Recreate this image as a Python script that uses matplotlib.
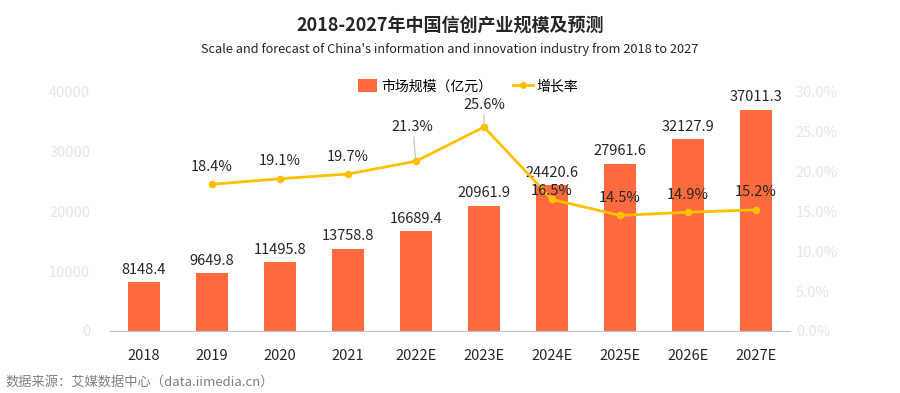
import matplotlib
matplotlib.use("Agg")
import matplotlib.pyplot as plt
from matplotlib.lines import Line2D
from matplotlib.patches import Patch

plt.rcParams["font.family"] = ["Noto Sans CJK SC", "DejaVu Sans"]

years = ["2018", "2019", "2020", "2021", "2022E", "2023E", "2024E", "2025E", "2026E", "2027E"]
scale = [8148.4, 9649.8, 11495.8, 13758.8, 16689.4, 20961.9, 24420.6, 27961.6, 32127.9, 37011.3]
growth = [None, 18.4, 19.1, 19.7, 21.3, 25.6, 16.5, 14.5, 14.9, 15.2]

BAR = "#FF6B3F"
LINE = "#FFC000"
TXT = "#262626"
TICK = "#E6E6E6"

fig = plt.figure(figsize=(9, 3.93), dpi=100)
ax = fig.add_axes([0.122, 0.158, 0.756, 0.608])
ax2 = ax.twinx()

x = list(range(len(years)))
ax.bar(x, scale, width=0.47, color=BAR, zorder=2)
for xi, v in zip(x, scale):
    ax.text(xi, v + 900, f"{v}", ha="center", va="bottom", fontsize=10.5, color=TXT)

ax.set_xlim(-0.5, len(years) - 0.5)
ax.set_ylim(0, 40000)
ax.set_yticks([0, 10000, 20000, 30000, 40000])
ax.set_xticks(x)
ax.set_xticklabels(years, fontsize=10.5, color=TXT)
ax.tick_params(axis="y", colors=TICK, labelsize=10.5, length=0, pad=14)
ax.tick_params(axis="x", length=0, pad=13)
for side in ["top", "right", "left"]:
    ax.spines[side].set_visible(False)
ax.spines["bottom"].set_color("#BFBFBF")

gx = [xi for xi, g in zip(x, growth) if g is not None]
gy = [g for g in growth if g is not None]
ax2.plot(gx, gy, color=LINE, lw=2, marker="o", ms=4.5, zorder=3)
ax2.set_ylim(0, 30)
ax2.set_yticks([0, 5, 10, 15, 20, 25, 30])
ax2.set_yticklabels([f"{t:.1f}%" for t in [0, 5, 10, 15, 20, 25, 30]])
ax2.tick_params(axis="y", colors=TICK, labelsize=10.5, length=0, pad=4)
for side in ["top", "right", "left", "bottom"]:
    ax2.spines[side].set_visible(False)

# label offsets (growth units) -- 2022E/2023E carry leader lines, 2024E sits close
lift = {"2022E": 3.4, "2023E": 1.9, "2024E": 0.2}
for xi, g in zip(gx, gy):
    yr = years[xi]
    if yr in ("2022E", "2023E"):
        ax2.annotate(f"{g}%", xy=(xi, g), xytext=(xi - 0.05 if yr == "2022E" else xi, g + lift[yr]),
                     ha="center", va="bottom", fontsize=10.5, color=TXT,
                     arrowprops=dict(arrowstyle="-", color="#BFBFBF", lw=0.8,
                                     shrinkA=0, shrinkB=2))
    else:
        ax2.text(xi, g + lift.get(yr, 1.3), f"{g}%", ha="center", va="bottom",
                 fontsize=10.5, color=TXT)

handles = [Patch(facecolor=BAR, edgecolor="none"),
           Line2D([0], [0], color=LINE, lw=2, marker="o", ms=4)]
fig.legend(handles, ["市场规模（亿元）", "增长率"], loc="center", bbox_to_anchor=(0.52, 0.78),
           ncol=2, frameon=False, fontsize=10, handlelength=1.4, handleheight=1.0,
           columnspacing=1.5, handletextpad=0.3)

fig.text(0.5, 0.935, "2018-2027年中国信创产业规模及预测", ha="center", va="center",
         fontsize=13, fontweight="bold", color=TXT)
fig.text(0.5, 0.873, "Scale and forecast of China's information and innovation industry from 2018 to 2027",
         ha="center", va="center", fontsize=9.2, color=TXT)
fig.text(0.006, 0.028, "数据来源：艾媒数据中心（data.iimedia.cn）", ha="left", va="center",
         fontsize=9.5, color="#7F7F7F")

fig.savefig("out.png", dpi=100)
